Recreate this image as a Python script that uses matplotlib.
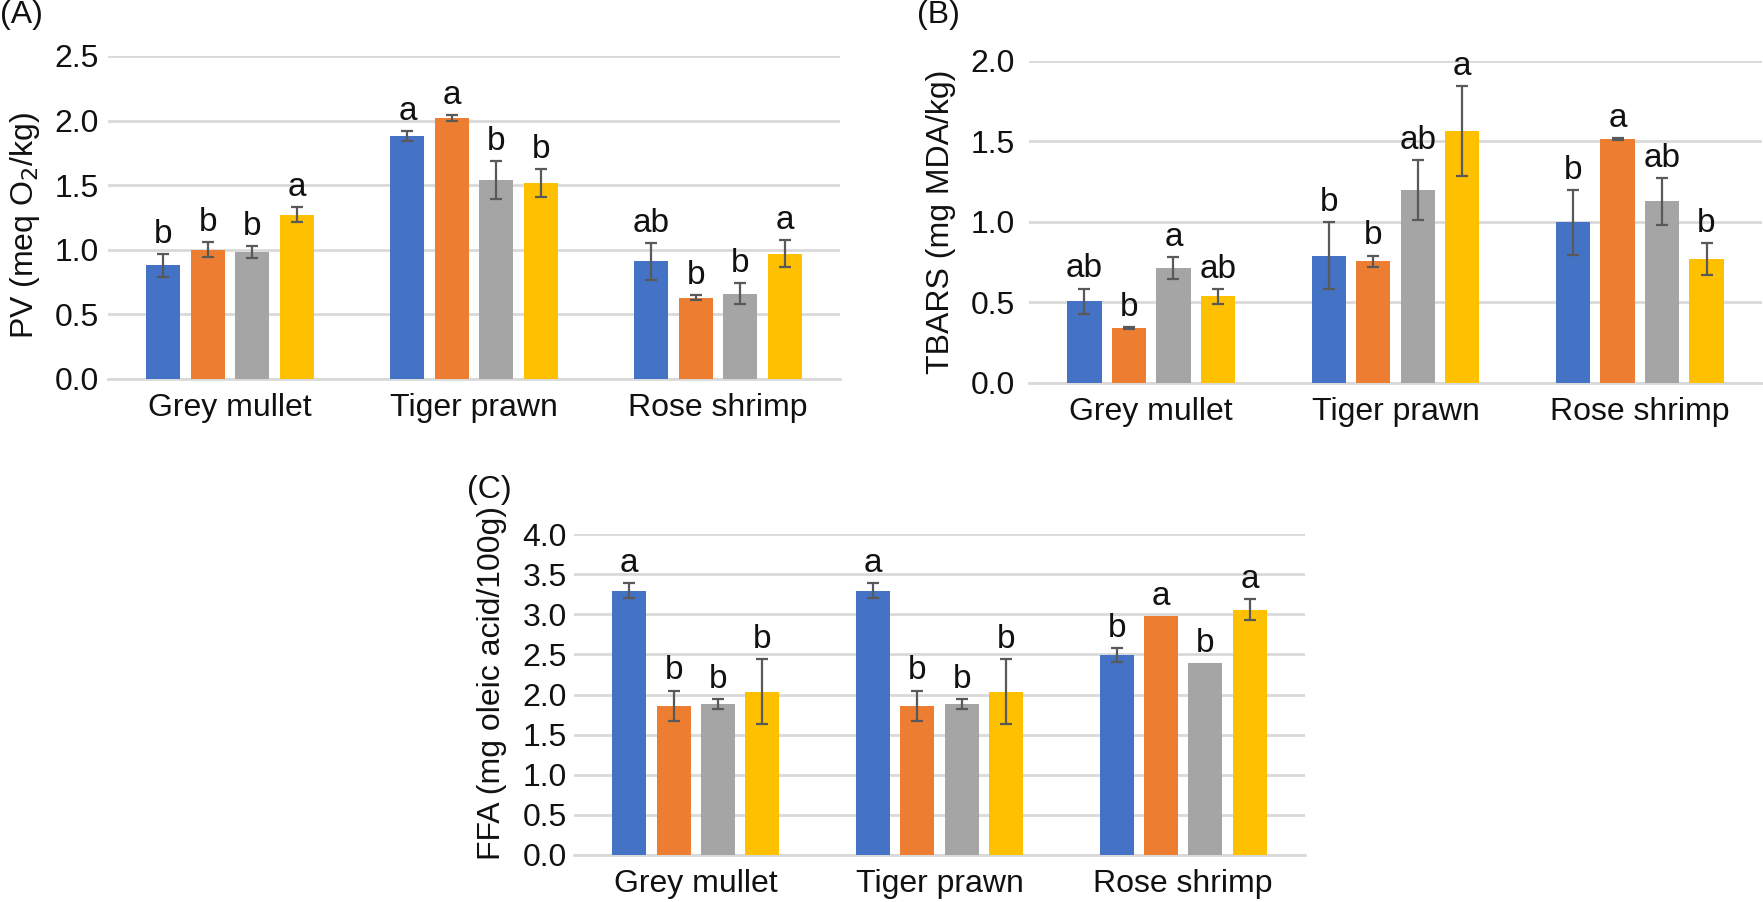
import matplotlib
matplotlib.use("Agg")
import matplotlib.pyplot as plt
import numpy as np

plt.rcParams['font.family'] = ['Liberation Sans', 'DejaVu Sans']

categories = ["Grey mullet", "Tiger prawn", "Rose shrimp"]
colors = ["#4472C4", "#ED7D31", "#A5A5A5", "#FFC000"]

# Panel A: PV (rows = series, cols = categories)
pv_mean = [[0.88, 1.88, 0.91],
           [1.00, 2.02, 0.63],
           [0.98, 1.54, 0.66],
           [1.27, 1.515, 0.97]]
pv_err = [[0.09, 0.04, 0.145],
          [0.058, 0.02, 0.02],
          [0.047, 0.145, 0.08],
          [0.058, 0.11, 0.105]]
pv_letters = [["b", "a", "ab"],
              ["b", "a", "b"],
              ["b", "b", "b"],
              ["a", "b", "a"]]
pv_ticks = [0.0, 0.5, 1.0, 1.5, 2.0, 2.5]

# Panel B: TBARS
tb_mean = [[0.508, 0.789, 0.996],
           [0.341, 0.754, 1.514],
           [0.713, 1.198, 1.128],
           [0.537, 1.564, 0.771]]
tb_err = [[0.078, 0.207, 0.203],
          [0.005, 0.037, 0.005],
          [0.07, 0.187, 0.145],
          [0.047, 0.277, 0.10]]
tb_letters = [["ab", "b", "b"],
              ["b", "b", "a"],
              ["a", "ab", "ab"],
              ["ab", "a", "b"]]
tb_ticks = [0.0, 0.5, 1.0, 1.5, 2.0]

# Panel C: FFA
ffa_mean = [[3.295, 3.295, 2.494],
            [1.859, 1.859, 2.983],
            [1.884, 1.884, 2.390],
            [2.037, 2.037, 3.054]]
ffa_err = [[0.093, 0.093, 0.09],
           [0.19, 0.19, 0.0],
           [0.06, 0.06, 0.0],
           [0.40, 0.40, 0.13]]
ffa_letters = [["a", "a", "b"],
               ["b", "b", "a"],
               ["b", "b", "b"],
               ["b", "b", "a"]]
ffa_ticks = [0.0, 0.5, 1.0, 1.5, 2.0, 2.5, 3.0, 3.5, 4.0]

W, H = 1763, 902
fig = plt.figure(figsize=(W / 100, H / 100), dpi=100)

def px_axes(x0, x1, y_bottom, y_top):
    return fig.add_axes([x0 / W, 1 - y_bottom / H, (x1 - x0) / W, (y_bottom - y_top) / H])

FS = 23
grid_c = "#D9D9D9"
txt_c = "#111111"

def draw_panel(ax, means, errs, letters, ticks, ypad):
    x = np.arange(len(categories))
    n = len(means)
    step, width = 0.182, 0.14
    for i in range(n):
        xs = x + (i - (n - 1) / 2) * step
        ax.bar(xs, means[i], width=width, color=colors[i], zorder=3)
        e = np.array(errs[i])
        m = np.array(means[i])
        mask = e > 0
        ax.errorbar(xs[mask], m[mask], yerr=e[mask], fmt="none", ecolor="#595959",
                    elinewidth=1.6, capsize=4, capthick=1.6, zorder=4)
        for j in range(len(categories)):
            ax.annotate(letters[i][j], (xs[j], m[j] + e[j]), xytext=(0, 8),
                        textcoords="offset points", ha="center", va="baseline",
                        fontsize=FS + 1, color=txt_c, zorder=5)
    ax.set_xlim(-0.5, len(categories) - 0.5)
    ax.set_ylim(ticks[0], ticks[-1])
    ax.set_yticks(ticks)
    ax.set_yticklabels([f"{t:.1f}" for t in ticks])
    ax.set_xticks(x)
    ax.set_xticklabels(categories)
    ax.tick_params(axis="both", length=0, labelsize=FS, colors=txt_c)
    ax.tick_params(axis="y", pad=ypad)
    ax.tick_params(axis="x", pad=10)
    ax.yaxis.grid(True, color=grid_c, linewidth=2.0, zorder=0)
    ax.set_axisbelow(True)
    for s in ["top", "right", "left"]:
        ax.spines[s].set_visible(False)
    ax.spines["bottom"].set_color(grid_c)
    ax.spines["bottom"].set_linewidth(2.0)
    ax.spines["bottom"].set_zorder(1)
    ax.patch.set_alpha(0)

axA = px_axes(108, 840, 379, 56)
draw_panel(axA, pv_mean, pv_err, pv_letters, pv_ticks, 6.5)
axB = px_axes(1029, 1762, 383, 60.7)
draw_panel(axB, tb_mean, tb_err, tb_letters, tb_ticks, 10)
axC = px_axes(574, 1305, 855, 534)
draw_panel(axC, ffa_mean, ffa_err, ffa_letters, ffa_ticks, 5)

fig.text(25 / W, 1 - 225 / H, "PV (meq O$_2$/kg)", rotation=90, ha="center", va="center",
         fontsize=FS, color=txt_c)
fig.text(941 / W, 1 - 222 / H, "TBARS (mg MDA/kg)", rotation=90, ha="center", va="center",
         fontsize=FS, color=txt_c)
fig.text(492 / W, 1 - 683 / H, "FFA (mg oleic acid/100g)", rotation=90, ha="center", va="center",
         fontsize=FS, color=txt_c)

fig.text(0 / W, 1 - 15 / H, "(A)", ha="left", va="center", fontsize=FS, color=txt_c)
fig.text(917 / W, 1 - 15 / H, "(B)", ha="left", va="center", fontsize=FS, color=txt_c)
fig.text(467 / W, 1 - 490 / H, "(C)", ha="left", va="center", fontsize=FS, color=txt_c)

fig.savefig("out.png", dpi=100)
